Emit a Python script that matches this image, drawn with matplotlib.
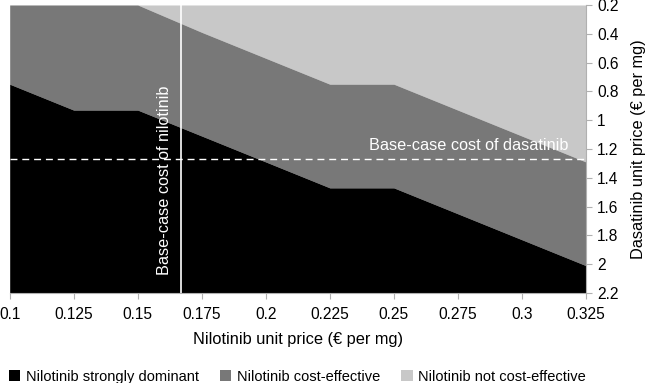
import numpy as np
from matplotlib import pyplot as plt
from matplotlib.patches import Patch

plt.rcParams['font.family'] = ['Liberation Sans', 'DejaVu Sans']

# nilotinib price grid (x) and region boundaries in dasatinib price (y)
nilotinib_price = [0.1, 0.125, 0.15, 0.175, 0.2, 0.225, 0.25, 0.275, 0.3, 0.325]
dominant_limit = [0.75, 0.93, 0.93, 1.11, 1.29, 1.47, 1.47, 1.65, 1.83, 2.01]
cost_eff_limit = [0.2, 0.2, 0.2, 0.39, 0.57, 0.75, 0.75, 0.93, 1.11, 1.29]

x_ticks = [0.1, 0.125, 0.15, 0.175, 0.2, 0.225, 0.25, 0.275, 0.3, 0.325]
x_labels = ["0.1", "0.125", "0.15", "0.175", "0.2", "0.225", "0.25", "0.275", "0.3", "0.325"]
y_ticks = [0.2, 0.4, 0.6, 0.8, 1.0, 1.2, 1.4, 1.6, 1.8, 2.0, 2.2]
y_labels = ["0.2", "0.4", "0.6", "0.8", "1", "1.2", "1.4", "1.6", "1.8", "2", "2.2"]

base_nilotinib = 0.1667
base_dasatinib = 1.27

region_names = ["Nilotinib strongly dominant", "Nilotinib cost-effective", "Nilotinib not cost-effective"]
colors = ["#000000", "#787878", "#c8c8c8"]

y_top, y_bot = 0.2, 2.2

fig = plt.figure(figsize=(6.46, 3.83), dpi=100)
ax = fig.add_axes([0.015, 0.235, 0.892, 0.752])

x = np.array(nilotinib_price)
ax.fill_between(x, y_top, cost_eff_limit, color=colors[2], linewidth=0)
ax.fill_between(x, cost_eff_limit, dominant_limit, color=colors[1], linewidth=0)
ax.fill_between(x, dominant_limit, y_bot, color=colors[0], linewidth=0)

ax.axvline(base_nilotinib, color="white", lw=1.2)
ax.axhline(base_dasatinib, color="white", lw=1.0, ls=(0, (5, 3.5)))

ax.text(0.1605, 1.415, "Base-case cost of nilotinib", rotation=90, color="white",
        fontsize=11.7, ha="center", va="center")
ax.text(0.318, 1.225, "Base-case cost of dasatinib", color="white",
        fontsize=11.7, ha="right", va="bottom")

ax.set_xlim(0.1, 0.325)
ax.set_ylim(y_bot, y_top)
ax.set_xticks(x_ticks)
ax.set_xticklabels(x_labels)
ax.set_yticks(y_ticks)
ax.set_yticklabels(y_labels)
ax.yaxis.tick_right()
ax.yaxis.set_label_position("right")
ax.tick_params(axis="both", labelsize=11.2, color="#b0b0b0", length=4)
ax.tick_params(axis="x", pad=6)
ax.tick_params(axis="y", pad=4)
for s in ["top", "left"]:
    ax.spines[s].set_visible(False)
for s in ["bottom", "right"]:
    ax.spines[s].set_color("#b0b0b0")

ax.set_xlabel("Nilotinib unit price (€ per mg)", fontsize=11.8, labelpad=7)
ax.set_ylabel("Dasatinib unit price (€ per mg)", fontsize=11.8, labelpad=9)

handles = [Patch(facecolor=c, edgecolor="none") for c in colors]
fig.legend(handles, region_names, loc="lower left", bbox_to_anchor=(0.0, -0.025), ncol=3,
           frameon=False, fontsize=10.5, handlelength=0.8, handleheight=0.8,
           handletextpad=0.4, columnspacing=1.4, borderaxespad=0.2)

fig.savefig("out.png", dpi=100)
